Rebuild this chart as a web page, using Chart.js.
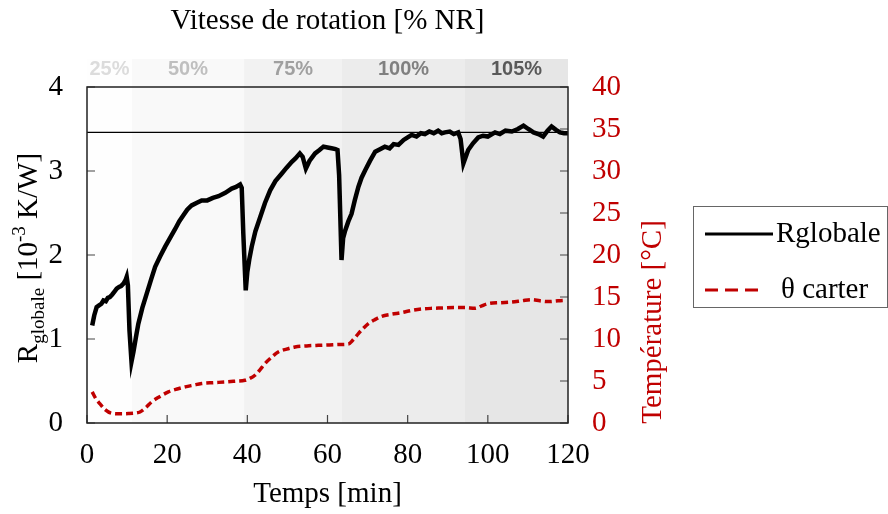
<!DOCTYPE html>
<html>
<head>
<meta charset="utf-8">
<script src="https://cdn.jsdelivr.net/npm/chart.js@4.4.1/dist/chart.umd.min.js"></script>
<style>
  html, body { margin: 0; padding: 0; background: #fff; }
  canvas { display: block; }
</style>
</head>
<body>
<canvas id="rChart" width="888" height="514"></canvas>
<script>
    // R globale [10^-3 K/W] vs temps [min]
    const tempsR = [1.3, 1.8, 2.4, 3.0, 3.6, 4.1, 4.7, 5.2, 5.7, 6.3, 6.8, 7.4, 8.0, 8.5, 9.1, 9.6, 9.9, 10.2, 10.6, 11.1,
      11.6, 12.2, 12.8, 13.8, 14.9, 16.0, 17.0, 18.2, 19.5, 20.8, 22.0, 23.0, 24.0, 25.0, 26.1, 27.3, 28.6, 30.0, 31.4, 32.8,
      34.5, 36.1, 37.2, 38.2, 38.6, 39.0, 39.6, 40.0, 40.5, 41.1, 42.0, 43.2, 44.4, 45.7, 47.0, 48.6, 49.8, 51.1, 52.0, 53.1,
      53.8, 54.6, 55.5, 56.9, 58.0, 59.0, 60.0, 61.0, 62.0, 62.5, 62.9, 63.5, 63.9, 64.4, 65.2, 66.0, 66.8, 67.7, 68.5, 69.4,
      70.6, 71.9, 73.1, 74.3, 75.5, 76.5, 77.7, 79.0, 80.0, 81.0, 82.2, 83.3, 84.3, 85.4, 86.5, 87.6, 88.5, 89.3, 90.5, 91.5,
      92.6, 93.2, 93.9, 94.5, 95.1, 96.3, 97.6, 98.8, 100.0, 101.8, 103.0, 104.4, 106.0, 107.5, 108.9, 110.1, 111.4, 112.6, 113.8, 114.9,
      115.9, 117.0, 118.0, 119.0, 120.0];
    const rGlobale = [1.16, 1.28, 1.38, 1.40, 1.42, 1.46, 1.45, 1.49, 1.50, 1.53, 1.56, 1.60, 1.62, 1.63, 1.66, 1.70, 1.74, 1.64, 1.10, 0.73,
      0.85, 1.02, 1.18, 1.37, 1.54, 1.71, 1.86, 1.98, 2.10, 2.21, 2.31, 2.40, 2.47, 2.54, 2.59, 2.62, 2.65, 2.65, 2.68, 2.70,
      2.74, 2.79, 2.81, 2.84, 2.80, 2.25, 1.58, 1.80, 1.95, 2.10, 2.28, 2.45, 2.62, 2.77, 2.88, 2.97, 3.04, 3.11, 3.15, 3.21,
      3.17, 3.03, 3.12, 3.21, 3.25, 3.29, 3.28, 3.27, 3.26, 3.25, 2.95, 1.94, 2.20, 2.29, 2.40, 2.49, 2.65, 2.81, 2.92, 3.01,
      3.12, 3.23, 3.26, 3.29, 3.27, 3.32, 3.31, 3.37, 3.40, 3.43, 3.41, 3.45, 3.44, 3.47, 3.45, 3.48, 3.45, 3.46, 3.47, 3.44,
      3.46, 3.38, 3.09, 3.17, 3.25, 3.33, 3.40, 3.42, 3.41, 3.46, 3.44, 3.48, 3.47, 3.50, 3.54, 3.50, 3.46, 3.44, 3.41, 3.48,
      3.53, 3.49, 3.46, 3.45, 3.45];

    // theta carter [°C] vs temps [min]
    const tempsT = [1.3, 2.2, 3.2, 4.5, 6.2, 8.0, 10.3, 12.0, 13.2, 14.6, 16.1, 18.0, 20.3, 22.5, 24.5, 26.5, 28.6, 31.5, 34.4, 37.0,
      39.4, 40.6, 41.9, 43.1, 44.4, 46.0, 47.7, 49.8, 51.9, 54.8, 57.7, 60.5, 63.0, 65.2, 66.4, 67.7, 69.0, 70.2, 71.8, 73.5,
      76.0, 78.5, 81.0, 83.5, 86.0, 88.5, 91.5, 94.3, 96.8, 98.5, 100.1, 103.0, 106.0, 108.5, 111.0, 113.0, 115.1, 117.5, 119.5];
    const thetaCarter = [3.7, 2.9, 2.3, 1.6, 1.15, 1.1, 1.12, 1.18, 1.31, 1.8, 2.5, 3.1, 3.7, 4.05, 4.3, 4.5, 4.7, 4.8, 4.88, 4.98,
      5.08, 5.3, 5.68, 6.3, 7.07, 7.8, 8.45, 8.8, 9.05, 9.18, 9.25, 9.3, 9.35, 9.4, 9.9, 10.64, 11.3, 11.83, 12.3, 12.7,
      12.95, 13.14, 13.4, 13.57, 13.65, 13.69, 13.74, 13.74, 13.65, 13.95, 14.21, 14.32, 14.4, 14.55, 14.69, 14.55, 14.45, 14.55, 14.61];

    const refLevel = 3.46;

    // vitesse de rotation bands
    const bandLabels = ['25%', '50%', '75%', '100%', '105%'];
    const bandStart = [0, 11.2, 39.2, 63.6, 94.3];
    const bandEnd = [11.2, 39.2, 63.6, 94.3, 120];
    const bandFill = ['#fefefe', '#f9f9f9', '#f2f2f2', '#ececec', '#e6e6e6'];
    const bandText = ['#dcdcdc', '#bfbfbf', '#a0a0a0', '#808080', '#595959'];

    const serif = "'Liberation Serif', 'Times New Roman', serif";
    const red = '#c00000';

    const decorPlugin = {
      id: 'decor',
      beforeDatasetsDraw(chart) {
        const ctx = chart.ctx, a = chart.chartArea, xs = chart.scales.x;
        ctx.save();
        for (let i = 0; i < bandLabels.length; i++) {
          const x0 = xs.getPixelForValue(bandStart[i]);
          const x1 = xs.getPixelForValue(bandEnd[i]);
          ctx.fillStyle = bandFill[i];
          ctx.fillRect(x0, a.top - 28, x1 - x0, a.bottom - a.top + 28);
          ctx.fillStyle = bandText[i];
          ctx.font = "bold 20px 'Liberation Sans', Arial, sans-serif";
          ctx.textAlign = 'center';
          ctx.textBaseline = 'middle';
          ctx.fillText(bandLabels[i], (x0 + x1) / 2, a.top - 18);
        }
        ctx.restore();
      },
      afterDraw(chart) {
        const ctx = chart.ctx, a = chart.chartArea;
        const xs = chart.scales.x, ys = chart.scales.y, y1 = chart.scales.y1;
        ctx.save();
        // inward tick marks
        ctx.strokeStyle = '#444';
        ctx.lineWidth = 1.2;
        ctx.beginPath();
        xs.ticks.forEach(t => {
          const px = xs.getPixelForValue(t.value);
          ctx.moveTo(px, a.bottom); ctx.lineTo(px, a.bottom - 8);
        });
        ys.ticks.forEach(t => {
          const py = ys.getPixelForValue(t.value);
          ctx.moveTo(a.left, py); ctx.lineTo(a.left + 8, py);
        });
        y1.ticks.forEach(t => {
          const py = y1.getPixelForValue(t.value);
          ctx.moveTo(a.right, py); ctx.lineTo(a.right - 8, py);
        });
        ctx.stroke();
        // frame
        ctx.strokeStyle = '#222';
        ctx.lineWidth = 1.5;
        ctx.strokeRect(a.left, a.top, a.right - a.left, a.bottom - a.top);

        // titles
        ctx.fillStyle = '#000';
        ctx.textAlign = 'center';
        ctx.textBaseline = 'middle';
        ctx.font = '29px ' + serif;
        ctx.fillText('Vitesse de rotation [% NR]', (a.left + a.right) / 2, 21);
        ctx.fillText('Temps [min]', (a.left + a.right) / 2, 494);

        // left axis title with sub/superscript
        ctx.save();
        ctx.translate(37, 258);
        ctx.rotate(-Math.PI / 2);
        ctx.textBaseline = 'alphabetic';
        ctx.textAlign = 'left';
        const parts = [
          ['R', 29, 0], ['globale', 19, 7], [' [10', 29, 0], ['-3', 19, -12], [' K/W]', 29, 0]
        ];
        let w = 0;
        parts.forEach(p => { ctx.font = p[1] + 'px ' + serif; w += ctx.measureText(p[0]).width; });
        let cx = -w / 2;
        parts.forEach(p => {
          ctx.font = p[1] + 'px ' + serif;
          ctx.fillText(p[0], cx, p[2]);
          cx += ctx.measureText(p[0]).width;
        });
        ctx.restore();

        // right axis title
        ctx.save();
        ctx.translate(661, 322);
        ctx.rotate(-Math.PI / 2);
        ctx.fillStyle = red;
        ctx.textAlign = 'center';
        ctx.textBaseline = 'alphabetic';
        ctx.font = '29px ' + serif;
        ctx.fillText('Température [°C]', 0, 0);
        ctx.restore();

        // legend
        ctx.strokeStyle = '#666';
        ctx.lineWidth = 1;
        ctx.strokeRect(693.5, 206.5, 194, 101);
        ctx.strokeStyle = '#000';
        ctx.lineWidth = 3;
        ctx.beginPath(); ctx.moveTo(705, 234); ctx.lineTo(773, 234); ctx.stroke();
        ctx.strokeStyle = red;
        ctx.setLineDash([13, 7]);
        ctx.beginPath(); ctx.moveTo(705, 290); ctx.lineTo(762, 290); ctx.stroke();
        ctx.setLineDash([]);
        ctx.fillStyle = '#000';
        ctx.textAlign = 'left';
        ctx.textBaseline = 'middle';
        ctx.font = '29px ' + serif;
        ctx.fillText('Rglobale', 776, 234);
        ctx.fillText('\u03b8 carter', 781, 290);
        ctx.restore();
      }
    };

    const rChart = new Chart(document.getElementById('rChart'), {
      type: 'line',
      data: {
        datasets: [{
          label: 'Rglobale',
          data: tempsR.map((t, i) => ({ x: t, y: rGlobale[i] })),
          borderColor: '#000',
          borderWidth: 4.5,
          pointRadius: 0,
          yAxisID: 'y'
        }, {
          label: '\u03b8 carter',
          data: tempsT.map((t, i) => ({ x: t, y: thetaCarter[i] })),
          borderColor: red,
          borderWidth: 3.5,
          borderDash: [7, 4],
          cubicInterpolationMode: 'monotone',
          pointRadius: 0,
          yAxisID: 'y1'
        }, {
          label: 'ref',
          data: [{ x: 0, y: refLevel }, { x: 120, y: refLevel }],
          borderColor: '#000',
          borderWidth: 1.2,
          pointRadius: 0,
          yAxisID: 'y'
        }]
      },
      options: {
        responsive: false,
        animation: false,
        layout: { padding: { top: 87, left: 0, right: 0, bottom: 0 } },
        plugins: {
          legend: { display: false },
          tooltip: { enabled: false }
        },
        scales: {
          x: {
            type: 'linear',
            min: 0, max: 120,
            grid: { display: false, drawTicks: false },
            border: { display: false },
            ticks: { stepSize: 20, padding: 15, color: '#000', font: { family: serif, size: 29 } },
            afterFit(s) { s.height = 91; }
          },
          y: {
            position: 'left',
            min: 0, max: 4,
            grid: { display: false, drawTicks: false },
            border: { display: false },
            ticks: { stepSize: 1, padding: 24, color: '#000', font: { family: serif, size: 29 } },
            afterFit(s) { s.width = 87; }
          },
          y1: {
            position: 'right',
            min: 0, max: 40,
            grid: { display: false, drawTicks: false },
            border: { display: false },
            ticks: { stepSize: 5, padding: 24, color: red, font: { family: serif, size: 29 } },
            afterFit(s) { s.width = 320; }
          }
        }
      },
      plugins: [decorPlugin]
    });
</script>
</body>
</html>
